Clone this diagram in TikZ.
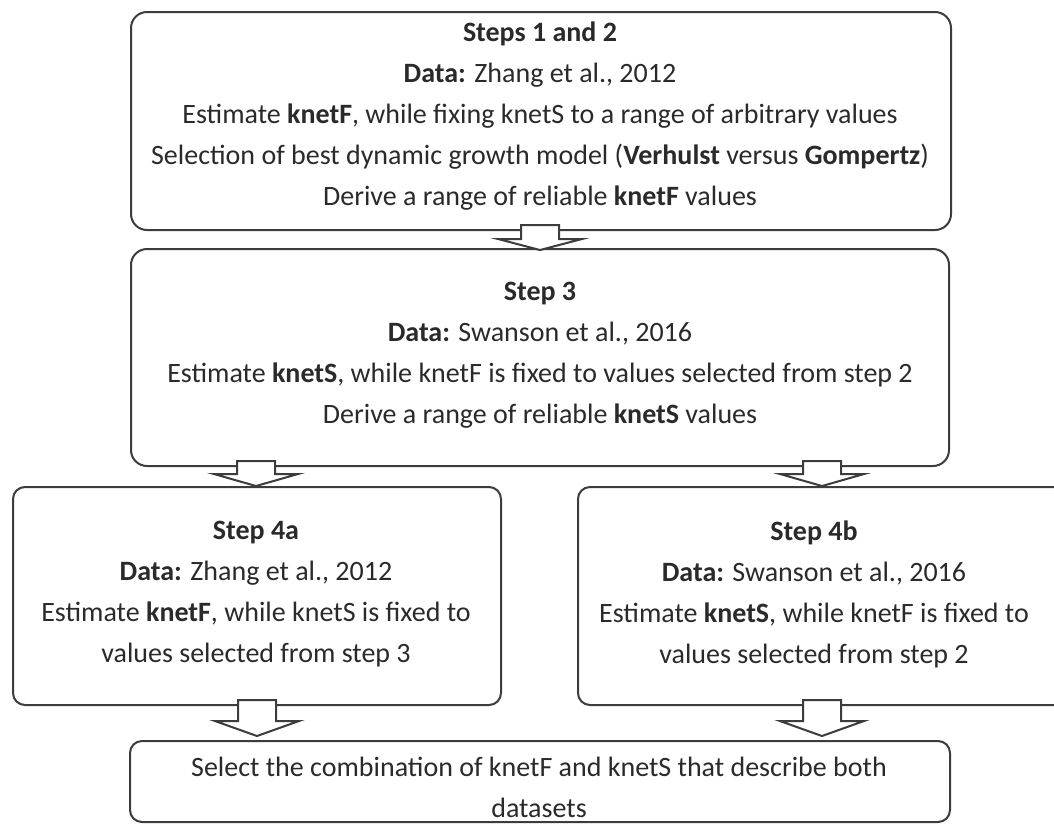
\documentclass[tikz,border=0pt]{standalone}
\usepackage{fontspec}
\setmainfont{Carlito}
\usetikzlibrary{calc}
\definecolor{ln}{HTML}{3C3C3C}
\definecolor{tx}{HTML}{2A2A2A}
\tikzset{
  box/.style={draw=ln, line width=2pt, rounded corners=#1, inner sep=0pt, anchor=north west},
  box/.default=12pt,
  txt/.style={text=tx, align=center, font=\fontsize{28}{41}\selectfont, inner sep=0pt},
  arrowline/.style={draw=ln, line width=2pt, fill=white, line join=miter},
  pics/barrow/.style n args={2}{code={
    \draw[arrowline] (-19,0) -- (-19,#1) -- (-42,#1) -- (0,#2) -- (42,#1) -- (19,#1) -- (19,0) -- cycle;}}
}
\begin{document}
\begin{tikzpicture}[x=1pt,y=-1pt]
\clip (0,0) rectangle (1054,823);
\fill[white] (0,0) rectangle (1054,823);
% boxes
\node[box=16pt, minimum width=820pt, minimum height=218pt] (b1) at (130,11) {};
\node[box=16pt, minimum width=818pt, minimum height=217pt] (b2) at (130,248) {};
\node[box, minimum width=488pt, minimum height=218pt] (b3) at (12,486) {};
\node[box, minimum width=488pt, minimum height=218pt] (b4) at (577,486) {};
\node[box, minimum width=820pt, minimum height=81pt] (b5) at (129,740) {};
% block arrows
\pic at ($(b1.south)+(-1,-6)$) {barrow={14}{25}};
\pic at ($(b3.north |- b2.south)+(-1,-6)$) {barrow={13}{25}};
\pic at ($(b4.north |- b2.south)+(0,-6)$) {barrow={13}{25}};
\pic at ($(b3.south)+(0,-6)$) {barrow={21}{36}};
\pic at ($(b4.south)+(0,-6)$) {barrow={21}{36}};
% texts
\node[txt, anchor=north] (t1) at (540,22) {\textbf{Steps 1 and 2}\\ \textbf{Data:} Zhang et al., 2012\\ Estimate \textbf{knetF}, while fixing knetS to a range of arbitrary values\\ Selection of best dynamic growth model (\textbf{Verhulst} versus \textbf{Gompertz})\\ Derive a range of reliable \textbf{knetF} values};
\node[txt] (t2) at (540,355) {\textbf{Step 3}\\ \textbf{Data:} Swanson et al., 2016\\ Estimate \textbf{knetS}, while knetF is fixed to values selected from step 2\\ Derive a range of reliable \textbf{knetS} values};
\node[txt] (t3) at (256,594) {\textbf{Step 4a}\\ \textbf{Data:} Zhang et al., 2012\\ Estimate \textbf{knetF}, while knetS is fixed to\\ values selected from step 3};
\node[txt] (t4) at (814,594) {\textbf{Step 4b}\\ \textbf{Data:} Swanson et al., 2016\\ Estimate \textbf{knetS}, while knetF is fixed to\\ values selected from step 2};
\node[txt, anchor=north] (t5) at (539,757) {Select the combination of knetF and knetS that describe both\\ datasets};
\end{tikzpicture}
\end{document}
